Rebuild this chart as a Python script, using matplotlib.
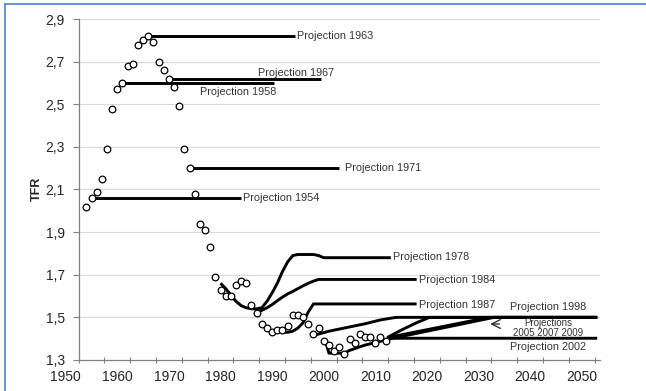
import matplotlib
matplotlib.use("Agg")
import matplotlib.pyplot as plt
from matplotlib.lines import Line2D

plt.rcParams.update({"font.family": ["Liberation Sans", "DejaVu Sans"], "font.size": 9})

# observed total fertility rate, one value per year
obs_years = list(range(1951, 2010))
obs_tfr = [2.02, 2.06, 2.09, 2.15, 2.29, 2.48, 2.57, 2.60, 2.68, 2.69,
           2.78, 2.80, 2.82, 2.79, 2.70, 2.66, 2.62, 2.58, 2.49, 2.29,
           2.20, 2.08, 1.94, 1.91, 1.83, 1.69, 1.63, 1.60, 1.60, 1.65,
           1.67, 1.66, 1.56, 1.52, 1.47, 1.45, 1.43, 1.44, 1.44, 1.46,
           1.51, 1.51, 1.50, 1.47, 1.42, 1.45, 1.39, 1.37, 1.34, 1.36,
           1.33, 1.40, 1.38, 1.42, 1.41, 1.41, 1.38, 1.41, 1.39]

# projections (year, TFR)
p1954_years = [1952, 1981]
p1954_tfr = [2.06, 2.06]
p1958_years = [1958, 1987.3]
p1958_tfr = [2.60, 2.60]
p1963_years = [1963, 1991.4]
p1963_tfr = [2.82, 2.82]
p1967_years = [1967, 1996.5]
p1967_tfr = [2.62, 2.62]
p1971_years = [1971, 2000]
p1971_tfr = [2.20, 2.20]
p1978_years = [1977, 1978, 1979, 1980, 1981, 1982, 1983, 1984, 1985, 1986, 1987,
               1988, 1989, 1990, 1991, 1992, 1995, 1996, 1997, 2010]
p1978_tfr = [1.66, 1.635, 1.605, 1.575, 1.555, 1.545, 1.54, 1.54, 1.545, 1.575, 1.615,
             1.66, 1.715, 1.76, 1.79, 1.795, 1.795, 1.79, 1.78, 1.78]
p1984_years = [1984, 1985, 1986, 1987, 1988, 1989, 1990, 1991, 1992, 1993, 1994,
               1995, 1996, 2015]
p1984_tfr = [1.525, 1.533, 1.545, 1.56, 1.578, 1.595, 1.61, 1.622, 1.635, 1.648, 1.66,
             1.67, 1.678, 1.678]
p1987_years = [1987, 1990, 1991, 1992, 1993, 1994, 1995, 2015]
p1987_tfr = [1.43, 1.43, 1.435, 1.45, 1.475, 1.525, 1.563, 1.563]
p1998_years = [1995, 1998, 2002, 2005, 2008, 2011, 2050]
p1998_tfr = [1.415, 1.435, 1.455, 1.47, 1.488, 1.50, 1.50]
p2002_years = [1997.3, 1998, 2001, 2002, 2005, 2009, 2010, 2050]
p2002_tfr = [1.395, 1.332, 1.332, 1.345, 1.37, 1.394, 1.402, 1.402]
p2005_years = [2009.3, 2012, 2015, 2017.5, 2050]
p2005_tfr = [1.405, 1.44, 1.475, 1.50, 1.50]
p2007_years = [2009.3, 2029, 2050]
p2007_tfr = [1.405, 1.50, 1.50]
p2009_years = [2009.6, 2030, 2050]
p2009_tfr = [1.398, 1.50, 1.50]

yticks = [1.3, 1.5, 1.7, 1.9, 2.1, 2.3, 2.5, 2.7, 2.9]
xlabels = list(range(1950, 2051, 10))

fig = plt.figure(figsize=(6.46, 3.91), dpi=100)
ax = fig.add_axes([0.1217, 0.0793, 0.8068, 0.8721])

for ys in yticks[1:]:
    ax.axhline(ys, color="#d9d9d9", lw=0.8, zorder=0)

proj = [(p1954_years, p1954_tfr), (p1958_years, p1958_tfr), (p1963_years, p1963_tfr),
        (p1967_years, p1967_tfr), (p1971_years, p1971_tfr), (p1978_years, p1978_tfr),
        (p1984_years, p1984_tfr), (p1987_years, p1987_tfr), (p1998_years, p1998_tfr),
        (p2002_years, p2002_tfr), (p2005_years, p2005_tfr), (p2007_years, p2007_tfr),
        (p2009_years, p2009_tfr)]
for xs, vs in proj:
    ax.plot(xs, vs, color="black", lw=2.1, solid_capstyle="butt", zorder=2)

ax.plot(obs_years, obs_tfr, ls="none", marker="o", ms=4.8, mfc="white",
        mec="black", mew=0.9, zorder=3)

lab = dict(fontsize=7.8, color="#333333", va="center")
ax.text(1981.3, 2.06, "Projection 1954", ha="left", **lab)
ax.text(1973.0, 2.556, "Projection 1958", ha="left", **lab)
ax.text(1991.8, 2.82, "Projection 1963", ha="left", **lab)
ax.text(1984.3, 2.645, "Projection 1967", ha="left", **lab)
ax.text(2001.2, 2.20, "Projection 1971", ha="left", **lab)
ax.text(2010.4, 1.785, "Projection 1978", ha="left", **lab)
ax.text(2015.4, 1.675, "Projection 1984", ha="left", **lab)
ax.text(2015.4, 1.557, "Projection 1987", ha="left", **lab)
ax.text(2040.5, 1.55, "Projection 1998", ha="center", **lab)
ax.text(2040.5, 1.475, "Projections", ha="center", fontsize=7, color="#333333", va="center")
ax.text(2040.5, 1.425, "2005 2007 2009", ha="center", fontsize=7, color="#333333", va="center")
ax.text(2040.5, 1.362, "Projection 2002", ha="center", **lab)
ax.annotate("", xy=(2028.7, 1.469), xytext=(2031.6, 1.469),
            arrowprops=dict(arrowstyle="->,head_length=0.7,head_width=0.35",
                            color="#333333", lw=1.0))

ax.set_xlim(1949.5, 2050.5)
ax.set_ylim(1.3, 2.9)
ax.set_xticks([1949.5 + 5 * k for k in range(21)])
ax.set_xticklabels([])
ax.set_xticks(xlabels, minor=True)
ax.set_xticklabels([str(v) for v in xlabels], minor=True, ha="right")
ax.tick_params(axis="x", which="major", direction="inout", length=5, color="#808080")
ax.tick_params(axis="x", which="minor", length=0, pad=7, labelsize=10, labelcolor="#262626")
ax.set_yticks(yticks)
ax.set_yticklabels([f"{v:.1f}".replace(".", ",") for v in yticks])
ax.tick_params(axis="y", direction="out", length=4, pad=6, color="#808080",
               labelsize=10, labelcolor="#262626")
ax.spines[["top", "right"]].set_visible(False)
ax.spines[["left", "bottom"]].set_color("#808080")
ax.spines[["left", "bottom"]].set_linewidth(0.9)

fig.text(37 / 646, 1 - 189 / 391, "TFR", rotation=90, ha="center", va="center",
         fontsize=9, fontweight="bold", color="#262626")

# blue frame on left and top
fig.add_artist(Line2D([5 / 646, 5 / 646], [0, 1 - 4 / 391], color="#5b8bd0", lw=1.3))
fig.add_artist(Line2D([5 / 646, 1], [1 - 4 / 391, 1 - 4 / 391], color="#5b8bd0", lw=1.3))

fig.savefig("out.png", dpi=100)
